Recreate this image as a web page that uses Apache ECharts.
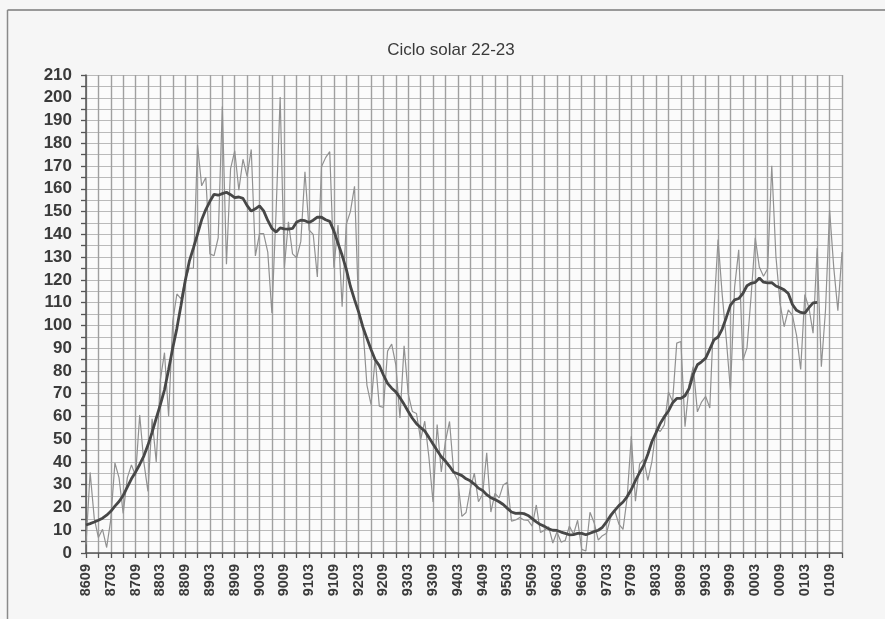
<!DOCTYPE html>
<html>
<head>
<meta charset="utf-8">
<title>Ciclo solar 22-23</title>
<script src="https://cdn.jsdelivr.net/npm/echarts@6/dist/echarts.min.js"></script>
<style>
  html, body { margin: 0; padding: 0; background: #f6f6f6; }
  #chart { width: 885px; height: 619px; }
</style>
</head>
<body>
<div id="chart"></div>
<script>
// First month shown (YYMM) and number of months on the axis: 8609 .. 0112
const startYear = 1986;
const startMonth = 9;
const monthCount = 184;

// Monthly mean sunspot number, 1986-09 .. 2001-12
const monthly1986 = [3.8, 35.4, 15.2, 6.8];
const monthly1987 = [10.4, 2.4, 14.7, 39.6, 33.0, 17.4, 33.0, 38.7, 33.9, 60.6, 39.9, 27.1];
const monthly1988 = [59.0, 40.0, 76.2, 88.0, 60.1, 101.8, 113.8, 111.6, 120.1, 125.1, 125.1, 179.2];
const monthly1989 = [161.3, 165.0, 131.4, 130.6, 138.5, 196.2, 126.9, 168.9, 176.7, 159.4, 173.0, 165.5];
const monthly1990 = [177.3, 130.5, 140.3, 140.3, 132.2, 105.4, 149.4, 200.3, 125.2, 145.5, 131.4, 129.7];
const monthly1991 = [136.9, 167.5, 141.9, 140.0, 121.3, 169.7, 173.7, 176.3, 125.3, 144.1, 108.2, 144.4];
const monthly1992 = [150.0, 161.1, 106.7, 99.8, 73.8, 65.2, 85.7, 64.5, 63.9, 88.7, 91.8, 82.6];
const monthly1993 = [59.3, 91.0, 69.8, 62.2, 61.3, 49.8, 57.9, 42.2, 22.4, 56.4, 35.6, 48.9];
const monthly1994 = [57.8, 35.5, 31.7, 16.1, 17.8, 28.0, 35.1, 22.5, 25.7, 44.0, 18.0, 26.2];
const monthly1995 = [24.2, 29.9, 31.1, 14.0, 14.5, 15.6, 14.5, 14.3, 11.8, 21.1, 9.0, 10.0];
const monthly1996 = [11.5, 4.4, 9.2, 4.8, 5.5, 11.8, 8.2, 14.4, 1.6, 0.9, 17.9, 13.3];
const monthly1997 = [5.7, 7.6, 8.7, 15.5, 18.5, 12.7, 10.4, 24.4, 51.3, 22.8, 39.0, 41.2];
const monthly1998 = [31.9, 40.3, 54.8, 53.4, 56.3, 70.7, 66.6, 92.2, 92.9, 55.5, 74.0, 81.9];
const monthly1999 = [62.0, 66.3, 68.8, 63.7, 106.4, 137.7, 113.5, 93.7, 71.5, 116.7, 133.2, 84.6];
const monthly2000 = [90.1, 112.9, 138.5, 125.5, 121.6, 124.9, 170.1, 130.5, 109.7, 99.4, 106.8, 104.4];
const monthly2001 = [95.6, 80.6, 113.5, 107.7, 96.6, 134.0, 81.8, 106.4, 150.7, 125.5, 106.5, 132.2];

// 13-month smoothed sunspot number, 1986-09 .. 2001-06
const smoothed1986 = [12.3, 12.9, 13.6, 14.4];
const smoothed1987 = [15.3, 16.6, 18.3, 20.6, 22.6, 25.3, 28.9, 32.6, 35.6, 38.9, 42.6, 47.4];
const smoothed1988 = [53.0, 59.2, 65.2, 71.7, 80.6, 90.1, 98.7, 108.8, 119.4, 128.1, 134.0, 140.1];
const smoothed1989 = [146.4, 150.9, 154.5, 157.6, 157.2, 157.9, 158.5, 157.4, 156.1, 156.4, 155.8, 152.6];
const smoothed1990 = [150.2, 151.2, 152.5, 150.3, 146.1, 142.6, 141.0, 142.8, 142.4, 142.3, 142.6, 145.4];
const smoothed1991 = [146.2, 146.0, 145.2, 146.2, 147.6, 147.5, 146.4, 145.7, 141.5, 136.1, 130.8, 124.7];
const smoothed1992 = [117.2, 111.3, 105.8, 99.4, 94.3, 89.4, 84.9, 82.3, 78.2, 74.5, 72.4, 70.8];
const smoothed1993 = [68.2, 65.3, 62.2, 59.2, 56.8, 55.1, 53.6, 50.8, 47.9, 45.0, 42.3, 40.4];
const smoothed1994 = [38.1, 35.5, 34.8, 34.0, 32.6, 31.7, 30.3, 28.5, 27.5, 25.6, 24.3, 23.5];
const smoothed1995 = [22.5, 21.3, 19.6, 18.0, 17.4, 17.5, 17.3, 16.5, 15.1, 13.7, 12.5, 11.7];
const smoothed1996 = [10.6, 10.0, 9.9, 9.2, 8.6, 8.0, 8.1, 8.6, 8.6, 8.0, 8.7, 9.4];
const smoothed1997 = [10.0, 11.3, 13.7, 16.5, 18.7, 20.8, 22.4, 24.8, 27.9, 31.8, 35.3, 38.5];
const smoothed1998 = [43.4, 49.0, 52.9, 56.9, 59.9, 62.4, 66.0, 67.9, 67.9, 69.1, 72.3, 78.6];
const smoothed1999 = [82.7, 84.0, 85.6, 89.6, 93.6, 94.9, 98.4, 103.5, 108.9, 111.2, 111.8, 114.0];
const smoothed2000 = [117.4, 118.5, 118.9, 120.8, 119.0, 118.7, 118.8, 117.3, 116.5, 115.6, 114.0, 109.2];
const smoothed2001 = [106.6, 105.7, 105.4, 107.8, 109.9, 110.1];

// Y axis range
const yMin = 0;
const yMax = 210;
const yStep = 5;

const titleText = 'Ciclo solar 22-23';

// Category labels in YYMM form
const months = [];
for (let i = 0; i < monthCount; i++) {
  const m0 = startMonth - 1 + i;
  const y = (startYear + Math.floor(m0 / 12)) % 100;
  const m = (m0 % 12) + 1;
  months.push(String(y).padStart(2, '0') + String(m).padStart(2, '0'));
}

const monthly = [].concat(
  monthly1986, monthly1987, monthly1988, monthly1989, monthly1990, monthly1991,
  monthly1992, monthly1993, monthly1994, monthly1995, monthly1996, monthly1997,
  monthly1998, monthly1999, monthly2000, monthly2001
);
const smoothed = [].concat(
  smoothed1986, smoothed1987, smoothed1988, smoothed1989, smoothed1990, smoothed1991,
  smoothed1992, smoothed1993, smoothed1994, smoothed1995, smoothed1996, smoothed1997,
  smoothed1998, smoothed1999, smoothed2000, smoothed2001
);
while (smoothed.length < monthCount) smoothed.push(null);

const chart = echarts.init(document.getElementById('chart'), null, { renderer: 'canvas' });

chart.setOption({
  backgroundColor: '#f6f6f6',
  animation: false,
  title: {
    text: titleText,
    left: 446,
    top: 37,
    textAlign: 'center',
    textStyle: {
      fontFamily: '"Liberation Sans Narrow", "Liberation Sans", Arial, sans-serif',
      fontSize: 17,
      fontWeight: 'normal',
      color: '#3a3a3a'
    }
  },
  graphic: [
    { type: 'line', shape: { x1: 7.5, y1: 10, x2: 885, y2: 10 }, style: { stroke: '#7a7a7a', lineWidth: 1.5 } },
    { type: 'line', shape: { x1: 7.5, y1: 10, x2: 7.5, y2: 619 }, style: { stroke: '#8a8a8a', lineWidth: 1.5 } }
  ],
  grid: {
    left: 86,
    right: 43,
    top: 75,
    bottom: 66,
    show: true,
    backgroundColor: '#fbfbfb',
    borderWidth: 0
  },
  xAxis: {
    type: 'category',
    data: months,
    boundaryGap: false,
    axisLine: { lineStyle: { color: '#555', width: 1.5 } },
    axisTick: {
      interval: (i) => i % 3 === 0,
      length: 5,
      lineStyle: { color: '#555', width: 1.3 }
    },
    axisLabel: {
      interval: (i) => i % 6 === 0,
      rotate: 90,
      margin: 11,
      fontFamily: '"Liberation Sans", Arial, sans-serif',
      fontWeight: 'bold',
      fontSize: 14.5,
      color: '#3a3a3a'
    },
    splitLine: {
      show: true,
      interval: (i) => i % 3 === 0,
      lineStyle: { color: '#a0a0a0', width: 1.4 }
    }
  },
  yAxis: {
    type: 'value',
    min: yMin,
    max: yMax,
    interval: yStep,
    axisLine: { show: true, lineStyle: { color: '#555', width: 1.5 } },
    axisTick: { show: true, length: 5, lineStyle: { color: '#555', width: 1.3 } },
    axisLabel: {
      margin: 14,
      fontFamily: '"Liberation Sans", Arial, sans-serif',
      fontWeight: 'bold',
      fontSize: 17,
      color: '#3a3a3a',
      formatter: (v) => (v % 10 === 0 ? String(v) : '')
    },
    splitLine: { show: true, lineStyle: { color: '#bababa', width: 1 } }
  },
  series: [
    {
      name: 'Mensual',
      type: 'line',
      data: monthly,
      showSymbol: false,
      lineStyle: { color: '#919191', width: 1.2 },
      z: 3
    },
    {
      name: 'Suavizado',
      type: 'line',
      data: smoothed,
      showSymbol: false,
      connectNulls: false,
      lineStyle: { color: '#474747', width: 2.8 },
      z: 4
    }
  ]
});
</script>
</body>
</html>
